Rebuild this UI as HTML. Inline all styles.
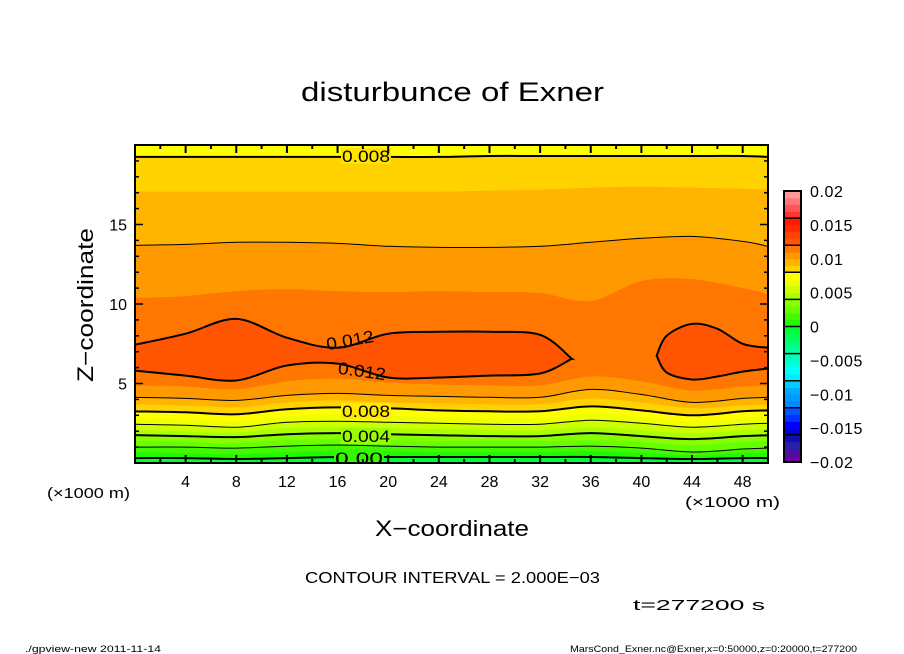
<!DOCTYPE html>
<html><head><meta charset="utf-8"><style>
html,body{margin:0;padding:0;background:#fff;}
svg{display:block;font-family:"Liberation Sans","DejaVu Sans",sans-serif;}
</style></head><body>
<svg id="chart" width="904" height="654" viewBox="0 0 904 654" xmlns="http://www.w3.org/2000/svg">
<text x="301" y="101" font-size="27" textLength="303" lengthAdjust="spacingAndGlyphs">disturbunce of Exner</text>
<defs><clipPath id="pc"><rect x="135" y="145" width="633" height="318"/></clipPath></defs>
<g id="fills" clip-path="url(#pc)"></g>
<g id="lines" clip-path="url(#pc)"></g>
<g id="clabels" clip-path="url(#pc)"></g>
<rect x="135" y="145" width="633" height="318" fill="none" stroke="#000" stroke-width="2"/>
<g id="ticks"></g>
<g id="cbar"></g>
<text x="47" y="498" font-size="15" textLength="83" lengthAdjust="spacingAndGlyphs">(×1000 m)</text>
<text x="685" y="507" font-size="15" textLength="95" lengthAdjust="spacingAndGlyphs">(×1000 m)</text>
<text x="375" y="536" font-size="22" textLength="154" lengthAdjust="spacingAndGlyphs">X−coordinate</text>
<text x="-77" y="0" transform="translate(93,305) rotate(-90)" font-size="22" textLength="154" lengthAdjust="spacingAndGlyphs">Z−coordinate</text>
<text x="305" y="583" font-size="16" textLength="295" lengthAdjust="spacingAndGlyphs">CONTOUR INTERVAL = 2.000E−03</text>
<text x="633" y="610" font-size="15" textLength="132" lengthAdjust="spacingAndGlyphs">t=277200 s</text>
<text x="25" y="652" font-size="9" textLength="136" lengthAdjust="spacingAndGlyphs">./gpview-new   2011-11-14</text>
<text x="570" y="652" font-size="9" textLength="287" lengthAdjust="spacingAndGlyphs">MarsCond_Exner.nc@Exner,x=0:50000,z=0:20000,t=277200</text>
</svg>
<script>
// x samples (km x1000)
const xk = [0,4,8,12,16,20,24,28,32,36,40,44,48,50];
// heights (km) of lower-branch levels 0.000 .. 0.011
const L000 = [0.31,0.31,0.25,0.31,0.38,0.38,0.38,0.38,0.38,0.38,0.31,0.25,0.31,0.31];
const L001 = [0.69,0.63,0.56,0.69,0.75,0.75,0.69,0.69,0.69,0.75,0.63,0.50,0.63,0.63];
const L002 = [1.00,1.00,0.94,1.06,1.13,1.06,1.00,1.00,1.00,1.06,0.94,0.69,0.88,0.94];
const L003 = [1.38,1.31,1.25,1.44,1.50,1.44,1.38,1.38,1.38,1.44,1.31,1.13,1.31,1.38];
const L004 = [1.75,1.69,1.63,1.81,1.88,1.81,1.75,1.69,1.69,1.88,1.69,1.50,1.69,1.75];
const L005 = [2.06,2.00,1.94,2.19,2.25,2.19,2.13,2.06,2.06,2.25,2.06,1.88,2.06,2.13];
const L006 = [2.44,2.38,2.25,2.56,2.63,2.56,2.50,2.44,2.44,2.69,2.50,2.25,2.44,2.50];
const L007 = [2.81,2.75,2.63,2.94,3.06,3.00,2.88,2.81,2.81,3.13,2.88,2.63,2.81,2.88];
const L008 = [3.25,3.19,3.06,3.38,3.50,3.44,3.31,3.25,3.25,3.56,3.31,3.00,3.25,3.31];
const L009 = [3.69,3.63,3.50,3.81,3.94,3.81,3.75,3.69,3.69,4.06,3.81,3.44,3.63,3.69];
const L010 = [4.13,4.06,3.94,4.25,4.38,4.25,4.19,4.13,4.13,4.63,4.31,3.81,4.06,4.13];
const L011 = [4.88,4.81,4.63,5.13,5.31,5.06,4.94,4.88,4.88,5.44,5.13,4.56,4.81,4.88];
// upper-branch levels
const U011 = [10.38,10.50,10.81,10.94,10.81,10.75,10.81,10.75,10.69,10.19,11.44,11.56,11.00,10.63];
const U010 = [13.69,13.75,13.88,13.88,13.81,13.63,13.56,13.56,13.63,13.88,14.13,14.25,13.94,13.63];
const U009 = [17.06,17.06,17.06,17.06,17.06,17.06,17.06,17.13,17.19,17.31,17.38,17.31,17.25,17.19];
const U008 = [19.25,19.25,19.25,19.25,19.25,19.25,19.25,19.31,19.31,19.31,19.31,19.31,19.31,19.25];
// closed 0.012 regions
const blob1X = [0,4,8,12,16,20,24,28,32,34.5];
const blob1Lo = [5.81,5.50,5.19,6.13,6.25,5.38,5.38,5.50,5.63,6.56];
const blob1Hi = [7.44,8.13,9.06,7.88,7.25,8.13,8.25,8.25,8.06,6.56];
const blob2X = [41.2,42,44,46,48,50];
const blob2Lo = [6.75,5.69,5.25,5.44,5.75,5.94];
const blob2Hi = [6.75,8.00,8.75,8.44,7.50,7.25];
// colour scale: 40 shades, 0.001 step from -0.02 to 0.02
const shadeColors = ["#6a00a0","#4a10a0","#2a20a8","#1010b0","#0000dd","#0000ff","#0033ff","#0055ff",
 "#0088ff","#0099ff","#00aaff","#00ccff","#00eeff","#00ffff","#00ffdd","#00ffbb",
 "#00ff99","#00ff77","#00ff55","#00ff33","#22f800","#44f800","#66ff00","#88ff00",
 "#aaff00","#ccff00","#eeff00","#ffff00","#ffd200","#ffb400","#ff9900","#ff7700",
 "#ff5500","#ff4400","#ff2a00","#ff1a00","#ff3333","#ff5555","#ff7777","#ff9999"];
const cbTicks = ["0.02","0.015","0.01","0.005","0","−0.005","−0.01","−0.015","−0.02"];
const cbTickVals = [0.02,0.015,0.01,0.005,0,-0.005,-0.01,-0.015,-0.02];
const xTickVals = [4,8,12,16,20,24,28,32,36,40,44,48];
const zTickVals = [5,10,15];

const NS="http://www.w3.org/2000/svg";
const X0=135,X1=768,Y0=463,Y1=145;
const xs=x=>X0+x*(X1-X0)/50;
const zs=z=>Y0-z*(Y0-Y1)/20;
const col=v=>shadeColors[Math.max(0,Math.min(39,Math.floor(Math.round((v+0.02)*1e6)/1000)))];
function mk(tag,attrs,parent){const e=document.createElementNS(NS,tag);for(const k in attrs)e.setAttribute(k,attrs[k]);parent.appendChild(e);return e;}
function curve(pts,move){
  let d=move?`M${pts[0][0]},${pts[0][1]}`:`L${pts[0][0]},${pts[0][1]}`;
  for(let i=0;i<pts.length-1;i++){
    const p0=pts[i-1]||pts[i],p1=pts[i],p2=pts[i+1],p3=pts[i+2]||p2;
    const c1=[p1[0]+(p2[0]-p0[0])/6,p1[1]+(p2[1]-p0[1])/6];
    const c2=[p2[0]-(p3[0]-p1[0])/6,p2[1]-(p3[1]-p1[1])/6];
    d+=`C${c1[0].toFixed(1)},${c1[1].toFixed(1)} ${c2[0].toFixed(1)},${c2[1].toFixed(1)} ${p2[0].toFixed(1)},${p2[1].toFixed(1)}`;
  }
  return d;
}
const ptsOf=(xa,za)=>xa.map((x,i)=>[xs(x),zs(za[i])]);
const fills=document.getElementById('fills'),lines=document.getElementById('lines');
let r=mk('rect',{x:X0,y:Y1,width:X1-X0,height:Y0-Y1,fill:col(0.0075)},fills);


const bands=[[U008,0.0085],[U009,0.0095],[U010,0.0105],[U011,0.0115],
 [L011,0.0105],[L010,0.0095],[L009,0.0085],[L008,0.0075],[L007,0.0065],[L006,0.0055],
 [L005,0.0045],[L004,0.0035],[L003,0.0025],[L002,0.0015],[L001,0.0005],[L000,-0.0005]];
bands.forEach(b=>{
  const d=curve(ptsOf(xk,b[0]),true)+`L${X1+5},${Y0+5}L${X0-5},${Y0+5}Z`;
  const p=mk('path',{d:d,fill:col(b[1])},fills);
  
  
});
function blobPath(xa,lo,hi){
  const up=ptsOf(xa,hi),dn=ptsOf(xa,lo).reverse();
  return curve(up,true)+curve(dn,false)+'Z';
}
[[blob1X,blob1Lo,blob1Hi],[blob2X,blob2Lo,blob2Hi]].forEach(b=>{
  const p=mk('path',{d:blobPath(b[0],b[1],b[2]),fill:col(0.0125)},fills);
  
  
  const l=mk('path',{d:blobPath(b[0],b[1],b[2]),fill:'none',stroke:'#000','stroke-width':2},lines);
  
  
});
const contourLines=[[L000,2],[L002,1],[L004,2],[L006,1],[L008,2],[L010,1],[U010,1],[U008,2]];
contourLines.forEach(c=>{
  const l=mk('path',{d:curve(ptsOf(xk,c[0]),true),fill:'none',stroke:'#000','stroke-width':c[1]},lines);
  
  
});
const cl=document.getElementById('clabels');
const labs=[["0.008",366,162,0,"#ffe400"],["0.008",366,417,0,"#ffea00"],["0.004",366,442,0,"#99ff00"],["0.00",359,464,0,"#33f800"],
 ["0.012",350,346,-10,null],["0.012",362,377,8,null]];
labs.forEach(a=>{
  const g=mk('g',{transform:`rotate(${a[3]},${a[1]},${a[2]-6})`},cl);
  if(a[4]){mk('rect',{x:a[1]-25,y:a[2]-14,width:50,height:16,fill:a[4]},g);}
  const t=mk('text',{x:a[1]-24,y:a[2],'font-size':17,textLength:48,lengthAdjust:'spacingAndGlyphs'},g);
  t.textContent=a[0];
  
  
});
const tk=document.getElementById('ticks');
for(let x=2;x<50;x+=2){
  const L=(x%4===0)?8:4;
  mk('line',{x1:xs(x),x2:xs(x),y1:Y0,y2:Y0-L,stroke:'#000','stroke-width':2},tk);
  mk('line',{x1:xs(x),x2:xs(x),y1:Y1,y2:Y1+L,stroke:'#000','stroke-width':2},tk);
}
for(let z=1;z<20;z++){
  const L=(z%5===0)?8:4;
  mk('line',{x1:X0,x2:X0+L,y1:zs(z),y2:zs(z),stroke:'#000','stroke-width':1.5},tk);
  mk('line',{x1:X1,x2:X1-L,y1:zs(z),y2:zs(z),stroke:'#000','stroke-width':1.5},tk);
}
xTickVals.forEach(v=>{
  const t=mk('text',{x:xs(v),y:487,'text-anchor':'middle','font-size':16},tk);
  t.textContent=v;
  
  
});
zTickVals.forEach(v=>{
  const t=mk('text',{x:127,y:zs(v)+6,'text-anchor':'end','font-size':16},tk);
  t.textContent=v;
  
  
});
const cb=document.getElementById('cbar');
const CB0=462,CB1=191,cy=v=>CB0-(v+0.02)/0.04*(CB0-CB1);
shadeColors.forEach((c,i)=>{
  const v=-0.02+i*0.001;
  const rc=mk('rect',{x:784,y:cy(v+0.001),width:17,height:cy(v)-cy(v+0.001)+0.5,fill:c},cb);
  
  
});
for(let i=0;i<=10;i++){const v=-0.02+i*0.004;mk('line',{x1:784,x2:801,y1:cy(v),y2:cy(v),stroke:'#000','stroke-width':1.5},cb);}
mk('rect',{x:784,y:CB1,width:17,height:CB0-CB1,fill:'none',stroke:'#000','stroke-width':2},cb);
cbTicks.forEach((s,i)=>{
  const t=mk('text',{x:810,y:cy(cbTickVals[i])+6,'font-size':16,'letter-spacing':0.6},cb);
  t.textContent=s;
  
  
});
</script>
</body></html>
